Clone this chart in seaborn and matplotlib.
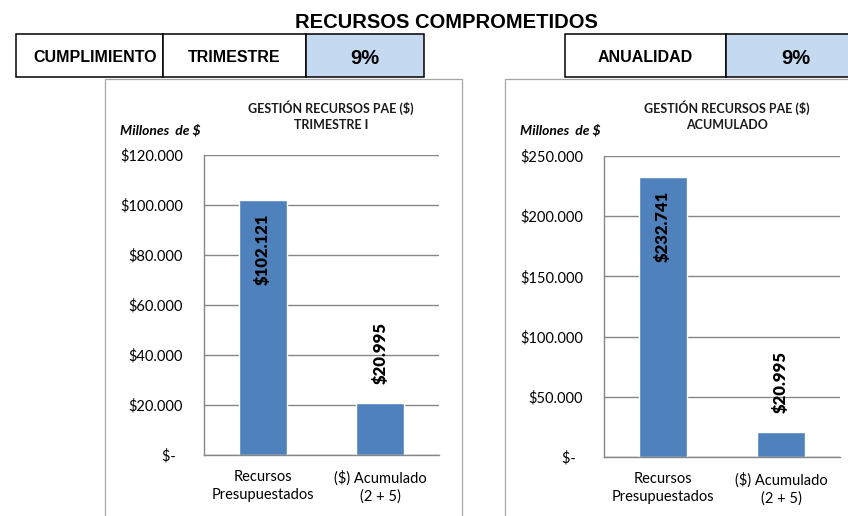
import seaborn as sns
import matplotlib.pyplot as plt
from matplotlib.patches import Rectangle

# Datos del gráfico (millones de $)
categorias = ["Recursos\nPresupuestados", "($) Acumulado\n(2 + 5)"]
valores_trimestre = [102121, 20995]
valores_acumulado = [232741, 20995]
ticks_trimestre = [0, 20000, 40000, 60000, 80000, 100000, 120000]
ticks_acumulado = [0, 50000, 100000, 150000, 200000, 250000]
cumplimiento_trimestre = "9%"
cumplimiento_anualidad = "9%"

W, H = 848, 516
AZUL_BARRA = "#4F81BD"
AZUL_CELDA = "#C5D9F1"
GRIS = "#868686"

sns.set_style("white")
plt.rcParams['font.family'] = ['Lato', 'DejaVu Sans']
plt.rcParams['text.color'] = 'black'
plt.rcParams['xtick.color'] = 'black'
plt.rcParams['ytick.color'] = 'black'

fig = plt.figure(figsize=(W / 100, H / 100), dpi=100)


def fx(x):
    return x / W


def fy(y):
    return 1 - y / H


def caja(x0, y0, x1, y1, face="white", edge="black", lw=1.1, z=2):
    fig.add_artist(Rectangle((fx(x0), fy(y1)), fx(x1) - fx(x0), fy(y0) - fy(y1),
                             transform=fig.transFigure, facecolor=face,
                             edgecolor=edge, lw=lw, zorder=z))


def dinero(v):
    if v == 0:
        return "$-  "
    return "$" + f"{v:,.0f}".replace(",", ".")


# Marcos de los gráficos
caja(105, 79, 462, 540, edge="#A6A6A6", lw=0.9, z=-2)
caja(505, 79, 880, 540, edge="#A6A6A6", lw=0.9, z=-2)

# Tabla superior
tabla = dict(family=['Liberation Sans', 'DejaVu Sans'], fontweight="bold", zorder=3)
caja(16, 34, 163, 77)
caja(163, 34, 306, 77)
caja(306, 34, 424, 77, face=AZUL_CELDA)
caja(565, 34, 726, 77)
caja(726, 34, 880, 77, face=AZUL_CELDA)
fig.text(fx(95), fy(62), "CUMPLIMIENTO", ha="center", va="baseline", fontsize=11.5, **tabla)
fig.text(fx(234), fy(62), "TRIMESTRE", ha="center", va="baseline", fontsize=11.5, **tabla)
fig.text(fx(365), fy(64), cumplimiento_trimestre, ha="center", va="baseline", fontsize=14.5, **tabla)
fig.text(fx(645), fy(62), "ANUALIDAD", ha="center", va="baseline", fontsize=11.5, **tabla)
fig.text(fx(796), fy(64), cumplimiento_anualidad, ha="center", va="baseline", fontsize=14.5, **tabla)
fig.text(fx(446), fy(28), "RECURSOS COMPROMETIDOS", ha="center", va="baseline", fontsize=14.5, **tabla)


def grafico(left, top, right, bottom, valores, ticks, subtitulo, tx, mx):
    ax = fig.add_axes([fx(left), fy(bottom), fx(right) - fx(left), fy(top) - fy(bottom)])
    ax.set_facecolor("none")
    sns.barplot(x=categorias, y=valores, ax=ax, color=AZUL_BARRA, saturation=1, width=0.41)

    ax.set_ylim(0, ticks[-1])
    ax.set_yticks(ticks)
    ax.set_yticklabels([dinero(t) for t in ticks], fontsize=10.5)
    ax.tick_params(axis="y", length=0, pad=15)
    ax.set_axisbelow(True)
    ax.yaxis.grid(True, color=GRIS, lw=1.0)

    ax.set_xlim(-0.5, 1.5)
    ax.tick_params(axis="x", which="major", length=0, pad=11, labelsize=10.5)
    ax.set_xticks([-0.5, 0.5, 1.5], minor=True)
    ax.tick_params(axis="x", which="minor", length=4.3, width=1, color=GRIS, direction="out")
    for lbl in ax.get_xticklabels():
        lbl.set_linespacing(1.3)
    ax.set_xlabel("")
    ax.set_ylabel("")

    for s in ["top", "right"]:
        ax.spines[s].set_visible(False)
    for s in ["left", "bottom"]:
        ax.spines[s].set_color(GRIS)
        ax.spines[s].set_linewidth(1.0)

    # Etiquetas de datos
    for i, v in enumerate(valores):
        dentro = v > ticks[-1] * 0.5
        ax.annotate(dinero(v), (i, v), xytext=(0, -10 if dentro else 13.5),
                    textcoords="offset points", rotation=90, ha="center",
                    va="top" if dentro else "bottom", fontsize=12, fontweight="heavy")

    fig.text(fx(tx), fy(108), "GESTIÓN RECURSOS PAE ($)", ha="center", va="center",
             fontsize=9, fontweight="bold", color="#1a1a1a")
    fig.text(fx(tx), fy(125), subtitulo, ha="center", va="center",
             fontsize=9, fontweight="bold", color="#1a1a1a")
    fig.text(fx(mx), fy(130), "Millones  de $", ha="left", va="center",
             fontsize=10, fontweight="bold", fontstyle="italic")
    return ax


grafico(204, 155, 439, 455, valores_trimestre, ticks_trimestre, "TRIMESTRE I", 331, 120)
grafico(604, 156, 840, 457, valores_acumulado, ticks_acumulado, "ACUMULADO", 727, 520)

fig.savefig("out.png", dpi=100)
